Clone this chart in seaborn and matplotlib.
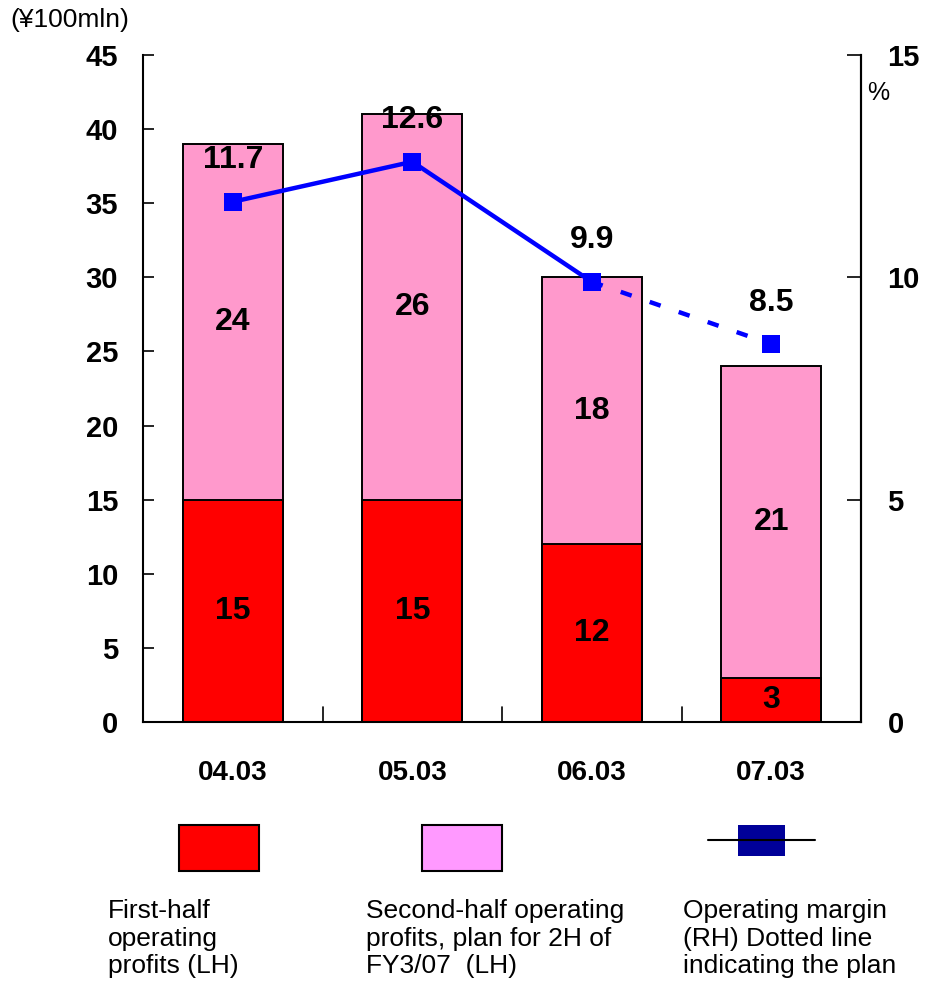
import matplotlib
matplotlib.use("Agg")
import matplotlib.pyplot as plt
from matplotlib.patches import Rectangle
from matplotlib.lines import Line2D
import seaborn as sns
import pandas as pd

# Fiscal years and operating profit halves (¥100mln)
years = ["04.03", "05.03", "06.03", "07.03"]
first_half = [15, 15, 12, 3]
second_half = [24, 26, 18, 21]
# Operating margin (%), last value is the plan
margin = [11.7, 12.6, 9.9, 8.5]

left_ticks = [0, 5, 10, 15, 20, 25, 30, 35, 40, 45]
right_ticks = [0, 5, 10, 15]

legend_labels = [
    "First-half\noperating\nprofits (LH)",
    "Second-half operating\nprofits, plan for 2H of\nFY3/07  (LH)",
    "Operating margin\n(RH) Dotted line\nindicating the plan",
]

RED = "#FF0000"
PINK = "#FF99CC"
PINK_LEG = "#FF99FF"
BLUE = "#0000FF"
NAVY = "#000099"

sns.set_theme(style="white")
plt.rcParams["font.family"] = ["Liberation Sans", "DejaVu Sans"]
plt.rcParams["text.color"] = "black"
plt.rcParams["xtick.color"] = "black"
plt.rcParams["ytick.color"] = "black"
plt.rcParams["axes.labelcolor"] = "black"

df = pd.DataFrame({
    "year": years,
    "first": first_half,
    "second": second_half,
})
df["total"] = df["first"] + df["second"]

fig = plt.figure(figsize=(9.3, 9.9), dpi=100)
ax = fig.add_axes([0.1538, 0.2707, 0.7720, 0.6737])

# stacked bars: full height in pink, first half overlaid in red
sns.barplot(data=df, x="year", y="total", color=PINK, width=0.557,
            edgecolor="black", linewidth=1.4, saturation=1, ax=ax)
sns.barplot(data=df, x="year", y="first", color=RED, width=0.557,
            edgecolor="black", linewidth=1.4, saturation=1, ax=ax)

ax.set_xlim(-0.5, 3.5)
ax.set_ylim(0, 45)
ax.set_yticks(left_ticks)
ax.set_yticklabels([str(t) for t in left_ticks], fontsize=21, fontweight="bold")
ax.set_xlabel("")
ax.set_ylabel("")
ax.set_xticks(range(len(years)))
ax.set_xticklabels(years, fontsize=20, fontweight="bold")
ax.tick_params(axis="x", length=0, pad=27)
ax.tick_params(axis="y", direction="in", length=8, width=1.2, pad=18,
               left=True, right=False)

# separators between categories on the bottom axis
for xb in [0.5, 1.5, 2.5]:
    ax.plot([xb, xb], [0, 1.0], color="black", lw=1.2, clip_on=False)

ax.spines["top"].set_visible(False)
for side in ["left", "bottom", "right"]:
    ax.spines[side].set_color("black")
    ax.spines[side].set_linewidth(1.5)

# segment value labels
for i, (f, s) in enumerate(zip(first_half, second_half)):
    ax.text(i, f / 2, str(f), ha="center", va="center",
            fontsize=23, fontweight="bold", color="black")
    ax.text(i, f + s / 2, str(s), ha="center", va="center",
            fontsize=23, fontweight="bold", color="black")

# operating margin on the right axis
ax2 = ax.twinx()
ax2.set_ylim(0, 15)
ax2.set_yticks(right_ticks)
ax2.set_yticklabels([str(t) for t in right_ticks], fontsize=21, fontweight="bold")
ax2.tick_params(axis="y", direction="in", length=10, width=1.2, pad=19,
                right=True, left=False)
for side in ["top", "left", "bottom"]:
    ax2.spines[side].set_visible(False)
ax2.spines["right"].set_linewidth(1.5)
ax2.spines["right"].set_color("black")

xs = list(range(len(years)))
sns.lineplot(x=xs[:3], y=margin[:3], color=BLUE, lw=3.2, ax=ax2)
sns.lineplot(x=xs[2:], y=margin[2:], color=BLUE, lw=3.2, ax=ax2,
             linestyle=(0, (2.6, 4.3)))
sns.scatterplot(x=xs, y=margin, color=BLUE, marker="s", s=170,
                edgecolor="none", ax=ax2, zorder=5)
for i, m in enumerate(margin):
    ax2.text(i, m + 0.93, f"{m}", ha="center", va="center",
             fontsize=23, fontweight="bold", color="black")
ax2.set_ylabel("")

# axis unit labels
fig.text(10 / 930, 1 - 20 / 990, "(¥100mln)", fontsize=19,
         ha="left", va="center")
fig.text(867 / 930, 1 - 93 / 990, "%", fontsize=18,
         ha="left", va="center")

# legend below the chart
W, H = 930, 990
def fig_rect(x0, y0, x1, y1, color, lw=1.5, ec="black"):
    fig.patches.append(Rectangle((x0 / W, 1 - y1 / H), (x1 - x0) / W,
                                 (y1 - y0) / H, transform=fig.transFigure,
                                 facecolor=color, edgecolor=ec, linewidth=lw))

fig_rect(179, 825, 259, 871, RED)
fig_rect(422, 825, 502, 871, PINK_LEG)
fig_rect(738, 825, 785, 856, NAVY, lw=0, ec="none")
fig.lines.append(Line2D([708 / W, 815 / W], [1 - 840 / H, 1 - 840 / H],
                        transform=fig.transFigure, color="black", lw=1.5))

for x0, lab in zip([108, 366, 683], legend_labels):
    fig.text(x0 / W, 1 - 899 / H, lab, fontsize=19, ha="left", va="top",
             linespacing=1.19)

fig.savefig("out.png", dpi=100)
